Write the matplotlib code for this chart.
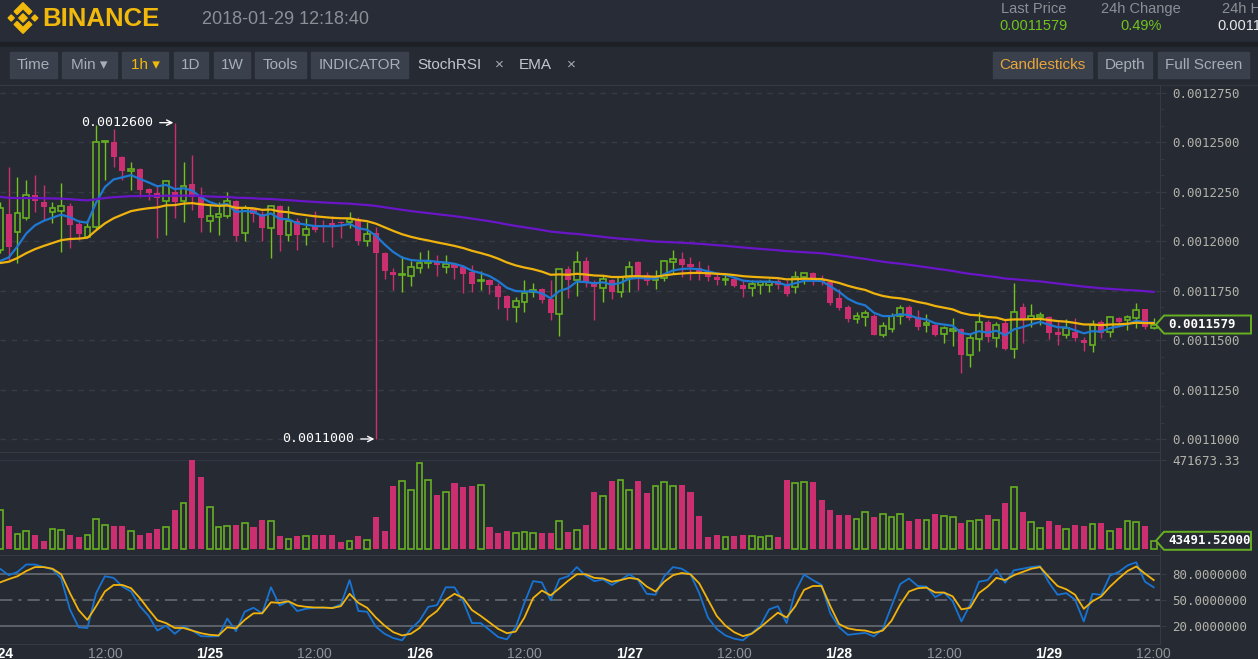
import numpy as np
import matplotlib
matplotlib.use('Agg')
import matplotlib.pyplot as plt
from matplotlib.patches import Polygon, Rectangle
from matplotlib.ticker import AutoMinorLocator

plt.rcParams['font.family'] = ['Liberation Sans', 'DejaVu Sans']

# hourly candles, 2018-01-24 00:00 .. 2018-01-29 12:00 (prices in 1e-7 units)
open_e7 = [11956, 12138, 12049, 12116, 12234, 12200, 12147, 12155, 12180, 12086,
           12024, 12074, 12500, 12504, 12428, 12357, 12367, 12264, 12244, 12204,
           12251, 12204, 12288, 12225, 12103, 12121, 12128, 12205, 12040, 12167,
           12137, 12066, 12180, 12032, 12104, 12032, 12079, 12083, 12091, 12099,
           12099, 12111, 12002, 12040, 11939, 11846, 11830, 11825, 11863, 11889,
           11902, 11871, 11883, 11871, 11843, 11797, 11804, 11775, 11725, 11669,
           11694, 11743, 11760, 11707, 11632, 11858, 11804, 11902, 11788, 11762,
           11804, 11742, 11815, 11897, 11830, 11804, 11813, 11897, 11909, 11883,
           11863, 11851, 11821, 11804, 11807, 11779, 11762, 11777, 11779, 11799,
           11782, 11770, 11818, 11841, 11807, 11796, 11715, 11669, 11607, 11616,
           11622, 11526, 11555, 11622, 11666, 11619, 11577, 11577, 11531, 11548,
           11555, 11425, 11504, 11593, 11512, 11585, 11454, 11669, 11607, 11616,
           11615, 11543, 11526, 11543, 11500, 11475, 11593, 11543, 11610, 11602,
           11610, 11656, 11560]
high_e7 = [12200, 12377, 12327, 12310, 12335, 12285, 12200, 12295, 12195, 12110,
           12110, 12590, 12508, 12570, 12430, 12402, 12370, 12270, 12285, 12310,
           12600, 12402, 12436, 12275, 12184, 12200, 12251, 12210, 12184, 12170,
           12153, 12184, 12185, 12176, 12118, 12116, 12153, 12108, 12128, 12105,
           12150, 12124, 12099, 12074, 11945, 11863, 11926, 11900, 11944, 11956,
           11931, 11931, 11890, 11880, 11880, 11850, 11810, 11788, 11730, 11720,
           11804, 11791, 11765, 11804, 11858, 11875, 11951, 11922, 11804, 11824,
           11810, 11825, 11900, 11900, 11846, 11855, 11905, 11956, 11947, 11919,
           11900, 11880, 11841, 11830, 11812, 11804, 11804, 11804, 11808, 11815,
           11804, 11850, 11840, 11845, 11830, 11800, 11757, 11680, 11644, 11652,
           11630, 11590, 11636, 11678, 11680, 11650, 11632, 11580, 11572, 11610,
           11560, 11534, 11644, 11600, 11593, 11600, 11788, 11689, 11683, 11640,
           11620, 11593, 11605, 11610, 11514, 11602, 11600, 11622, 11615, 11627,
           11686, 11660, 11612]
low_e7 = [11940, 11905, 11889, 12110, 12150, 12108, 12091, 11947, 11964, 12007,
          12020, 12060, 12310, 12377, 12310, 12259, 12226, 12210, 12017, 12032,
          12116, 12099, 12158, 12049, 12049, 12032, 12118, 12003, 12003, 12099,
          12003, 11914, 11952, 12003, 11956, 11981, 12049, 11998, 11973, 12015,
          12066, 11981, 11976, 11000, 11808, 11754, 11745, 11774, 11841, 11865,
          11824, 11841, 11809, 11740, 11745, 11754, 11733, 11656, 11602, 11593,
          11641, 11720, 11686, 11602, 11521, 11712, 11723, 11770, 11602, 11694,
          11708, 11720, 11745, 11754, 11779, 11757, 11800, 11840, 11818, 11804,
          11804, 11800, 11779, 11777, 11770, 11720, 11725, 11735, 11743, 11757,
          11725, 11740, 11785, 11780, 11780, 11678, 11652, 11592, 11585, 11572,
          11526, 11517, 11543, 11580, 11600, 11551, 11543, 11520, 11484, 11470,
          11335, 11366, 11447, 11492, 11467, 11450, 11408, 11487, 11568, 11577,
          11504, 11475, 11509, 11497, 11445, 11442, 11509, 11517, 11577, 11551,
          11560, 11555, 11555]
close_e7 = [12167, 11973, 12142, 12234, 12205, 12172, 12167, 12180, 12083, 12037,
            12074, 12504, 12508, 12428, 12357, 12367, 12259, 12244, 12219, 12307,
            12200, 12281, 12222, 12116, 12130, 12137, 12205, 12027, 12167, 12137,
            12066, 12179, 12032, 12104, 12032, 12061, 12057, 12074, 12074, 12091,
            12111, 12002, 12035, 11939, 11851, 11830, 11835, 11868, 11889, 11902,
            11880, 11883, 11866, 11835, 11784, 11804, 11779, 11720, 11664, 11700,
            11737, 11754, 11703, 11639, 11858, 11804, 11897, 11788, 11767, 11808,
            11745, 11818, 11870, 11830, 11800, 11811, 11902, 11909, 11880, 11871,
            11846, 11818, 11804, 11809, 11774, 11757, 11782, 11794, 11796, 11779,
            11733, 11821, 11838, 11799, 11796, 11690, 11664, 11605, 11622, 11639,
            11526, 11572, 11622, 11661, 11611, 11565, 11585, 11526, 11560, 11555,
            11425, 11509, 11593, 11517, 11577, 11454, 11644, 11602, 11622, 11627,
            11538, 11526, 11560, 11509, 11487, 11577, 11538, 11615, 11593, 11615,
            11652, 11565, 11579]
volume = [206700, 121900, 79500, 95400, 74200, 42400, 106000, 100700, 74200, 62000,
          74200, 160600, 127200, 121900, 121900, 95400, 74200, 83200, 106000, 115000,
          206700, 242000, 471673.33, 380000, 221000, 115000, 121900, 127200, 136000, 115000,
          153700, 148400, 68900, 53000, 68900, 68900, 74200, 74200, 74200, 35500,
          42400, 68900, 47700, 168000, 95400, 335000, 360400, 312700, 454000, 365700,
          286200, 300400, 348000, 327000, 334000, 341000, 115000, 83200, 95400, 83200,
          90100, 83200, 83200, 83200, 148400, 90100, 100700, 127200, 300400, 281000,
          360400, 365700, 312700, 360400, 295000, 335000, 353000, 335000, 341000, 300400,
          175000, 62000, 74200, 62000, 68900, 74200, 68900, 62000, 68900, 62000,
          365700, 348000, 353000, 353000, 260000, 206700, 180000, 180000, 159000, 194000,
          168000, 185000, 168000, 185000, 148400, 159000, 154000, 185000, 175000, 168000,
          136000, 148400, 154000, 180000, 154000, 242000, 327000, 194000, 141000, 113000,
          148400, 127200, 106000, 127200, 121900, 130000, 136000, 95400, 110000, 148400,
          141000, 121900, 43491.52]
stoch_k = [86.5, 78.9, 82.7, 91.4, 91.4, 88.4, 85.7, 75.1, 39.0, 18.1,
           17.3, 58.0, 77.7, 75.8, 65.6, 59.9, 42.8, 31.4, 14.3, 20.0,
           10.5, 19.2, 14.3, 7.8, 7.4, 7.8, 28.3, 13.5, 36.3, 40.9,
           34.4, 64.8, 43.5, 48.5, 37.1, 39.7, 40.9, 40.9, 40.9, 44.7,
           73.2, 37.1, 36.3, 18.8, 10.5, 5.5, 2.9, 16.2, 25.7, 42.0,
           43.9, 64.8, 64.8, 48.5, 23.0, 23.0, 15.0, 6.7, 4.0, 18.1,
           46.6, 72.0, 70.5, 49.6, 74.3, 77.7, 88.4, 78.3, 72.0, 73.9,
           67.5, 73.2, 80.0, 73.2, 57.2, 56.1, 77.7, 88.4, 86.5, 80.0,
           58.0, 29.5, 16.2, 8.6, 4.8, 2.9, 11.2, 20.0, 39.0, 42.8,
           23.0, 59.9, 79.6, 73.2, 67.5, 34.4, 18.1, 9.3, 10.5, 11.6,
           7.4, 16.2, 42.8, 68.6, 75.1, 66.3, 65.6, 53.4, 58.7, 48.5,
           24.9, 44.7, 71.3, 73.2, 85.7, 70.1, 84.6, 86.5, 88.4, 89.5,
           70.5, 56.1, 58.0, 50.4, 24.9, 57.2, 56.0, 78.5, 82.7, 90.3,
           94.0, 71.3, 64.8]
stoch_d = [70.5, 74.3, 77.7, 83.8, 88.4, 88.4, 86.5, 80.0, 58.0, 38.2,
           26.8, 42.8, 59.9, 67.5, 67.5, 63.7, 52.3, 39.0, 26.4, 23.0,
           17.3, 17.3, 14.3, 11.2, 9.3, 8.6, 18.1, 16.9, 26.8, 34.4,
           34.4, 47.3, 46.6, 48.5, 43.5, 42.0, 41.2, 41.2, 40.5, 42.8,
           57.2, 46.6, 40.9, 29.5, 20.0, 12.4, 8.6, 10.5, 17.3, 29.5,
           37.1, 50.4, 57.2, 52.3, 38.2, 31.4, 23.8, 16.2, 11.2, 13.1,
           29.5, 52.3, 61.0, 55.3, 63.7, 72.4, 80.0, 80.0, 75.8, 75.1,
           71.3, 73.2, 75.8, 74.3, 65.6, 59.9, 71.3, 78.9, 81.5, 80.0,
           69.4, 50.4, 31.4, 20.0, 12.4, 7.8, 10.5, 18.1, 26.8, 35.2,
           29.5, 42.8, 61.8, 66.3, 66.3, 42.8, 21.9, 16.9, 15.0, 14.3,
           11.6, 14.3, 25.7, 44.7, 59.9, 63.7, 64.4, 58.7, 58.7, 54.2,
           39.0, 40.9, 58.0, 65.6, 75.8, 73.2, 78.9, 82.7, 86.5, 88.4,
           77.0, 66.3, 62.5, 56.1, 39.7, 48.5, 54.2, 65.6, 75.1, 83.8,
           89.1, 80.8, 73.2]

ema_periods = [7, 25, 99]
ema_start_e7 = [11900, 11890, 12225]   # indicator values at the first visible candle
price_ticks_e7 = [11000, 11250, 11500, 11750, 12000, 12250, 12500, 12750]
stoch_levels = [20, 50, 80]
tick_hours = [0, 12, 24, 36, 48, 60, 72, 84, 96, 108, 120, 132]
tick_labels = ['1/24', '12:00', '1/25', '12:00', '1/26', '12:00',
               '1/27', '12:00', '1/28', '12:00', '1/29', '12:00']

BG = '#262a33'
HEAD = '#272c36'
GRID = '#363b45'
SPINE = '#353a44'
GREEN = '#66b022'
WICK_UP = '#74c21f'
RED = '#cc2f70'
AXTXT = '#b3b3aa'
BTN = '#3a414d'
BTNTXT = '#a8aeb6'
MONO = 'DejaVu Sans Mono'

o = np.array(open_e7) * 1e-7
h = np.array(high_e7) * 1e-7
l = np.array(low_e7) * 1e-7
c = np.array(close_e7) * 1e-7
vol = np.array(volume)
x = np.arange(len(c))
up = c >= o


def ema(values, period, start):
    k = 2.0 / (period + 1)
    out = [start]
    for v in values[1:]:
        out.append(v * k + out[-1] * (1 - k))
    return np.array(out)


def px_box(x0, y0, x1, y1):
    return [x0 / W, 1 - y1 / H, (x1 - x0) / W, (y1 - y0) / H]


W, H = 1258, 659
fig = plt.figure(figsize=(W / 100, H / 100), dpi=100, facecolor=BG)

# background layer: header, toolbar
bg = fig.add_axes([0, 0, 1, 1], zorder=0)
bg.set_xlim(0, W)
bg.set_ylim(H, 0)
bg.axis('off')
bg.add_patch(Rectangle((0, 0), W, 42, color=HEAD))
bg.add_patch(Rectangle((0, 42), W, 5, color='#1c1f26'))
bg.add_patch(Rectangle((0, 47), W, 37, color=BG))
bg.plot([0, W], [84.5, 84.5], color='#30353f', lw=1)

# logo
logo = '#f0b90b'
cx, cy, sc = 23, 18, 1.18
for dx, s in [(0, 3.6), (-10, 2.6), (10, 2.6)]:
    pts = [(dx - s, 0), (dx, -s), (dx + s, 0), (dx, s)]
    bg.add_patch(Polygon([(cx + sc * px, cy + sc * py) for px, py in pts], color=logo))
for sgn in (-1, 1):
    pts = [(0, 13), (7.5, 5.5), (5, 3), (0, 8), (-5, 3), (-7.5, 5.5)]
    bg.add_patch(Polygon([(cx + sc * px, cy + sgn * sc * py) for px, py in pts], color=logo))
bg.text(42, 19, 'BINANCE', color=logo, fontsize=18.5, fontweight='bold', va='center', ha='left')
bg.text(202, 19, '2018-01-29 12:18:40', color='#8b9097', fontsize=13, va='center')

bg.text(1034, 9, 'Last Price', color='#8b9097', fontsize=10.5, ha='center', va='center')
bg.text(1034, 26, '0.0011579', color='#72c41f', fontsize=10.5, ha='center', va='center')
bg.text(1141, 9, '24h Change', color='#8b9097', fontsize=10.5, ha='center', va='center')
bg.text(1141, 26, '0.49%', color='#72c41f', fontsize=10.5, ha='center', va='center')
bg.text(1222, 9, '24h High', color='#8b9097', fontsize=10.5, ha='left', va='center')
bg.text(1217, 26, '0.0011790', color='#e6e8ea', fontsize=10.5, ha='left', va='center')

buttons = [('Time', 10, 57, BTNTXT), ('Min \u25be', 62, 117, BTNTXT), ('1h \u25be', 122, 168, '#f0b90b'),
           ('1D', 174, 208, BTNTXT), ('1W', 214, 250, BTNTXT), ('Tools', 255, 306, BTNTXT),
           ('INDICATOR', 311, 408, BTNTXT), ('Candlesticks', 993, 1092, '#e9a53a'),
           ('Depth', 1098, 1152, BTNTXT), ('Full Screen', 1158, 1249, BTNTXT)]
for lab, x0, x1, col in buttons:
    bg.add_patch(Rectangle((x0, 52), x1 - x0, 26, color=BTN))
    bg.text((x0 + x1) / 2, 65, lab, color=col, fontsize=11, ha='center', va='center')
bg.text(417, 65, 'StochRSI', color='#c3c7cd', fontsize=11, va='center')
bg.text(499, 65, '\u00d7', color='#a8aeb6', fontsize=11, ha='center', va='center')
bg.text(519, 65, 'EMA', color='#c3c7cd', fontsize=11, va='center')
bg.text(571, 65, '\u00d7', color='#a8aeb6', fontsize=11, ha='center', va='center')

# chart panels
ax = fig.add_axes(px_box(0, 85, 1160, 452), zorder=1, facecolor=BG)
axv = fig.add_axes(px_box(0, 452, 1160, 555), zorder=1, facecolor=BG, sharex=ax)
axs = fig.add_axes(px_box(0, 555, 1160, 644), zorder=1, facecolor=BG, sharex=ax)
for a in (ax, axv, axs):
    for side, sp in a.spines.items():
        sp.set_color(SPINE)
        sp.set_visible(side in ('top', 'right', 'bottom'))
    a.yaxis.tick_right()
    a.tick_params(axis='y', colors=SPINE, labelcolor=AXTXT, labelsize=9, length=4, pad=5)

# candles
ax.vlines(x, l, h, colors=np.where(up, WICK_UP, RED), lw=1, zorder=2)
body_lo = np.minimum(o, c)
body_h = np.maximum(np.abs(c - o), 6e-7)
ax.bar(x[up], body_h[up], bottom=body_lo[up], width=0.66, facecolor=BG, edgecolor=GREEN, lw=1.2, zorder=3)
ax.bar(x[~up], body_h[~up], bottom=body_lo[~up], width=0.7, color=RED, lw=0, zorder=3)

ema_cols = ['#1f78d1', '#f0b30e', '#6a16c8']
for per, st, col in zip(ema_periods, ema_start_e7, ema_cols):
    ax.plot(x, ema(c, per, st * 1e-7), color=col, lw=1.6, zorder=4)

ax.set_xlim(0.149, 132.72)
ax.set_ylim(0.00109342, 0.00127905)
ax.set_yticks(np.array(price_ticks_e7) * 1e-7)
ax.set_yticklabels([f'{v * 1e-7:.7f}' for v in price_ticks_e7], fontfamily=MONO)
ax.yaxis.set_minor_locator(AutoMinorLocator(3))
ax.tick_params(axis='y', which='minor', colors=SPINE, length=3)
ax.grid(axis='y', which='major', color=GRID, ls=(0, (4, 4)), lw=1)
ax.tick_params(axis='x', bottom=False, labelbottom=False)

imax = int(np.argmax(h))
imin = int(np.argmin(l))
for i, val in [(imax, h[imax]), (imin, l[imin])]:
    ax.annotate(f'{val:.7f}', xy=(i, val), xytext=(-22, 0), textcoords='offset pixels',
                ha='right', va='center', color='white', fontsize=9.5, fontfamily=MONO, zorder=6,
                arrowprops=dict(arrowstyle='->', color='white', lw=1, shrinkA=3, shrinkB=1))

# volume
axv.bar(x[up], vol[up], width=0.66, facecolor=BG, edgecolor=GREEN, lw=1.2, zorder=3)
axv.bar(x[~up], vol[~up], width=0.7, color=RED, lw=0, zorder=3)
axv.set_ylim(-31800, 514073)
axv.set_yticks([vol.max()])
axv.set_yticklabels([f'{vol.max():.2f}'], fontfamily=MONO)
axv.grid(axis='y', color='#2f343e', lw=1)
axv.tick_params(axis='x', bottom=False, labelbottom=False)

# stoch rsi
axs.plot(x, stoch_k, color='#1874d2', lw=1.3, zorder=3)
axs.plot(x, stoch_d, color='#f2b40c', lw=1.3, zorder=4)
for lev in stoch_levels:
    axs.axhline(lev, color='#6c7078', lw=1.1, ls=(0, (8, 4, 2, 4)) if lev == 50 else '-', zorder=2)
axs.set_ylim(-1.4, 102.5)
axs.set_yticks(stoch_levels)
axs.set_yticklabels([f'{v:.7f}' for v in stoch_levels], fontfamily=MONO)
axs.set_xticks(tick_hours)
axs.set_xticklabels(tick_labels)
axs.tick_params(axis='x', length=0, pad=2, labelsize=10, labelcolor='#8f949b')
for t, txt in zip(axs.get_xticklabels(), tick_labels):
    if '/' in txt:
        t.set_color('white')
        t.set_fontweight('bold')

# last value markers on the right scale
fg = fig.add_axes([0, 0, 1, 1], zorder=5)
fg.set_xlim(0, W)
fg.set_ylim(H, 0)
fg.axis('off')
for a, val, txt in [(ax, c[-1], f'{c[-1]:.7f}'), (axv, vol[-1], f'{vol[-1]:.5f}')]:
    yd = a.transData.transform((x[-1], val))[1]
    yp = H - yd
    fg.add_patch(Polygon([(1156, yp), (1164, yp - 9), (1251, yp - 9), (1251, yp + 9), (1164, yp + 9)],
                         closed=True, facecolor=BG, edgecolor=GREEN, lw=1.4))
    fg.text(1168, yp, txt, color='white', fontsize=9, fontweight='bold', fontfamily=MONO, va='center')

fig.savefig('out.png', dpi=100, facecolor=BG)
